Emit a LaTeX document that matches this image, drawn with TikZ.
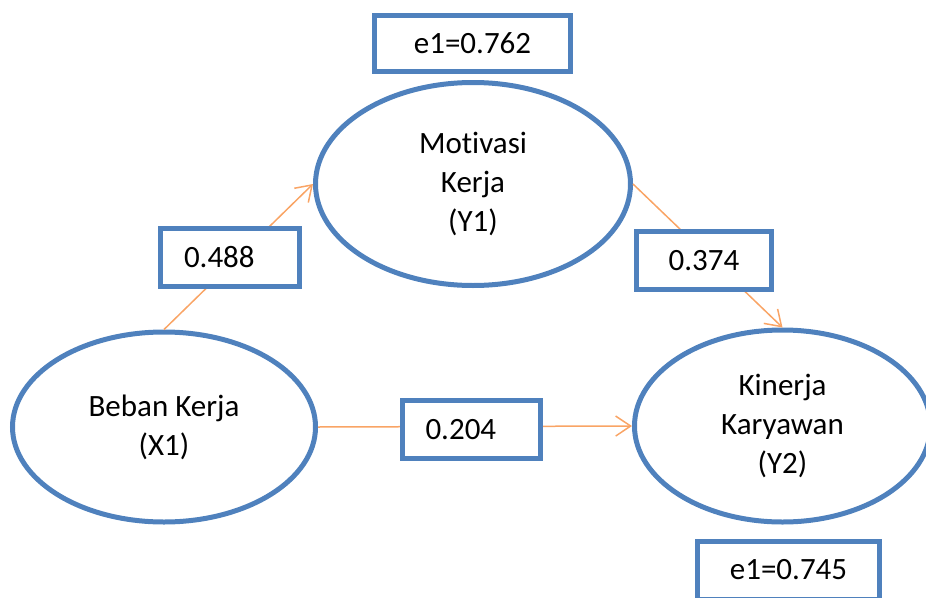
\documentclass[tikz,border=0pt]{standalone}
\usepackage{fontspec}
\setmainfont{Carlito}[Ligatures={NoCommon,NoContextual}]
\usetikzlibrary{shapes.geometric,arrows.meta}
\definecolor{garisbiru}{HTML}{4F81BD}
\definecolor{panahoranye}{HTML}{F9A465}

\begin{document}
\begin{tikzpicture}[x=1pt, y=-1pt,
    font=\fontsize{31}{39}\selectfont,
    var/.style={ellipse, draw=garisbiru, line width=5pt, align=center, inner sep=0pt},
    koef/.style={rectangle, draw=garisbiru, line width=5pt, fill=white, minimum height=58pt},
    koefkiri/.style={koef, text width=92pt, align=left, inner xsep=22pt},
    jalur/.style={draw=panahoranye, line width=1.5pt, -{Straight Barb[length=15pt,width=20pt]}}]
    \useasboundingbox (0,0) rectangle (926,597);
    \clip (0,0) rectangle (926,597);
    % Variabel
    \node[var, minimum width=315pt, minimum height=203pt] (motivasi) at (473,184) {Motivasi\\Kerja\\(Y1)};
    \node[var, minimum width=303pt, minimum height=190pt] (beban) at (164,427) {Beban Kerja\\(X1)};
    \node[var, minimum width=296pt, minimum height=192pt] (kinerja) at (782.5,426) {Kinerja\\Karyawan\\(Y2)};
    % Jalur
    \draw[jalur] (beban.north) -- (motivasi.west);
    \draw[jalur] (motivasi.east) -- (kinerja.north);
    \draw[jalur] (beban.east) -- (kinerja.west);
    % Koefisien jalur
    \node[koefkiri, minimum width=139pt] (k488) at (230,257.5) {0.488};
    \node[koef, minimum width=135pt] (k374) at (704,260.5) {0.374};
    \node[koefkiri, minimum width=138pt] (k204) at (471.5,429.5) {0.204};
    % Residu
    \node[koef, minimum width=196pt, minimum height=56pt] (e762) at (472.5,43.5) {e1=0.762};
    \node[koef, minimum width=182pt] (e745) at (788.5,570) {e1=0.745};
\end{tikzpicture}
\end{document}
